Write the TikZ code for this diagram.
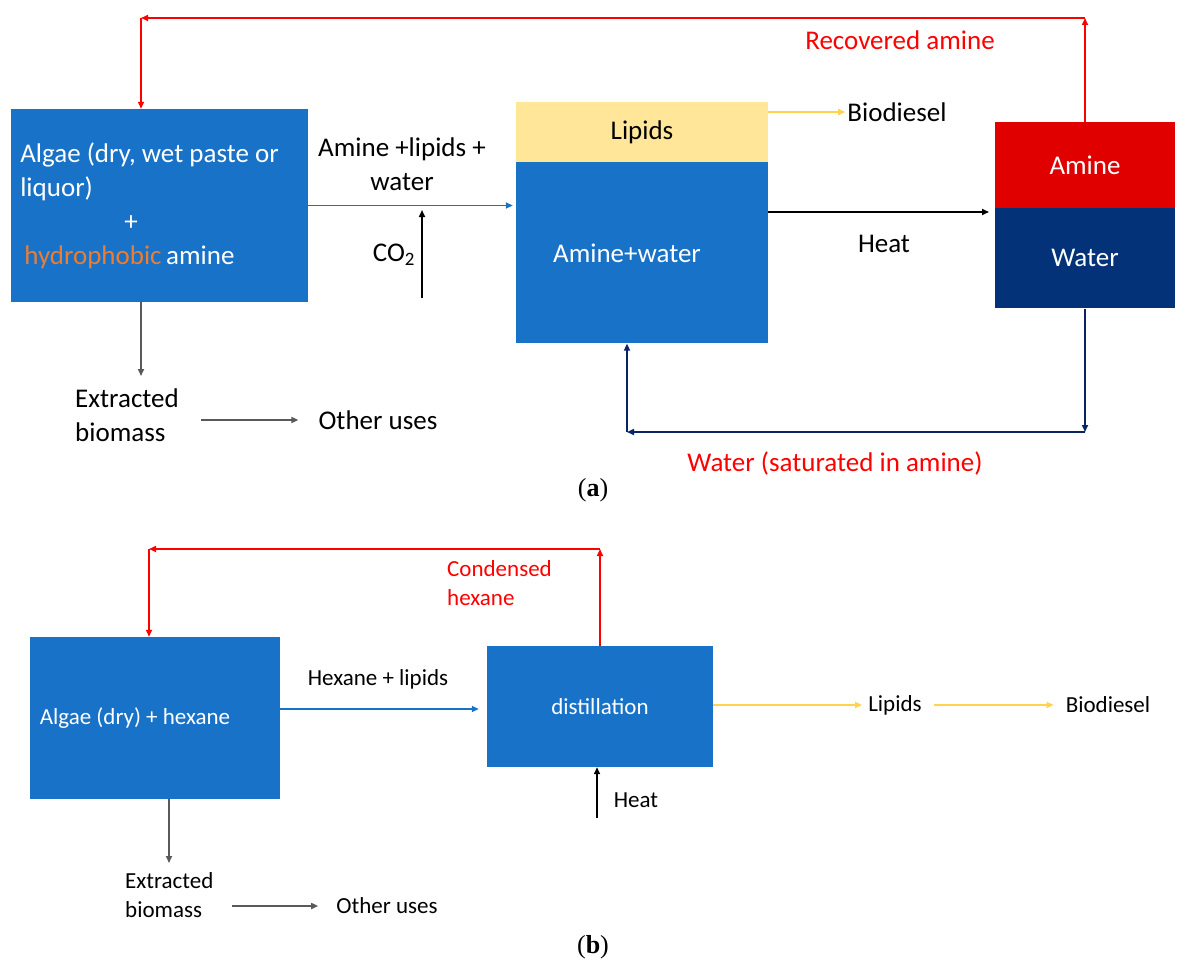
\documentclass[tikz,border=0pt]{standalone}
\usepackage{fontspec}
\setmainfont{Carlito}
\newfontfamily\capfont{Liberation Serif}
\usepackage{tikz}
\usetikzlibrary{arrows.meta, positioning}
\definecolor{boxblue}{HTML}{1772C8}
\definecolor{lipidyellow}{HTML}{FFE699}
\definecolor{aminered}{HTML}{E00000}
\definecolor{waternavy}{HTML}{033278}
\definecolor{flowyellow}{HTML}{FFD34E}
\definecolor{recred}{HTML}{FF0000}
\definecolor{hydroorange}{HTML}{ED7D31}
\definecolor{restgrey}{HTML}{595959}
\definecolor{retnavy}{HTML}{0A2466}
\newcommand\fa{\fontsize{27}{34}\selectfont}
\newcommand\fb{\fontsize{23}{29}\selectfont}

\begin{document}
\begin{tikzpicture}[
  x=1pt, y=-1pt,
  box/.style={rectangle, inner sep=0pt, text=white},
  lbl/.style={inner sep=2pt, text=black},
  arrow/.style={-{Triangle[length=7pt,width=6pt]}, line width=1.6pt},
  recycle/.style={arrow, recred},
  retline/.style={arrow, retnavy},
  greyarrow/.style={arrow, restgrey},
  feed/.style={arrow, boxblue},
  oil/.style={arrow, flowyellow},
]
\useasboundingbox (0,0) rectangle (1186,971);

% (a) amine process
\node[box, fill=boxblue, minimum width=297pt, minimum height=193pt,
      align=left, font=\fa] (algae) at (159.5,205.5)
     {Algae (dry, wet paste or\hspace*{20pt}\\liquor)\\\hspace*{104pt}+\\\hspace*{4pt}{\color{hydroorange}hydrophobic}\,amine};
\node[box, fill=lipidyellow, text=black, minimum width=252pt, minimum height=60pt, font=\fa] (lipids) at (642,132) {Lipids};
\node[box, fill=boxblue, minimum width=252pt, minimum height=181pt, font=\fa, below=0pt of lipids] (mix) {Amine+water\hspace*{30pt}};
\node[box, fill=aminered, minimum width=180pt, minimum height=86pt, font=\fa] (amine) at (1085,165) {Amine};
\node[box, fill=waternavy, minimum width=180pt, minimum height=100pt, font=\fa, below=0pt of amine] (water) {Water};

\node[lbl, font=\fa, align=center] (feedlbl) at (402,164) {Amine +lipids +\\water};
\node[lbl, font=\fa] (co2) at (394,255) {CO\textsubscript{2}};
\node[lbl, font=\fa] (biod) at (897,112) {Biodiesel};
\node[lbl, font=\fa] (heat) at (884,244) {Heat};
\node[lbl, font=\fa, text=recred] (reclbl) at (900,40) {Recovered amine};
\node[lbl, font=\fa, text=recred] (retlbl) at (835,463) {Water (saturated in amine)};
\node[lbl, font=\fa, align=left, anchor=west] (extr) at (73,415) {Extracted\\biomass};
\node[lbl, font=\fa] (other) at (378,420) {Other uses};
\node[font=\capfont\fontsize{26}{30}\selectfont] (capa) at (593,490) {(\textbf{a})};

\coordinate (co2s) at (422,298);
\coordinate (heatin) at (989,212);
\coordinate (recTR) at (1085,18);
\coordinate (recTL) at (141,18);
\coordinate (retR) at (1085,432);
\coordinate (retL) at (627,432);
\coordinate (extin) at (141,376);

\draw[feed] (algae.east) -- (algae.east -| mix.west) [shorten >=3pt];
\draw[arrow] (co2s) -- ++(0,-88);
\draw[oil] (lipids.east |- biod) -- (biod.west);
\draw[arrow] (mix.east |- heatin) -- (heatin);
\draw[recycle] (amine.north) -- (recTR);
\draw[recycle] (recTR) -- (recTL);
\draw[recycle] (recTL) -- (recTL |- algae.north);
\draw[retline] (water.south) -- (retR);
\draw[retline] (retR) -- (retL);
\draw[retline] (retL) -- (retL |- mix.south);
\draw[greyarrow] (extin |- algae.south) -- (extin);
\draw[greyarrow, shorten <=20pt, shorten >=18pt] (extr.east |- other) -- (other.west);

% (b) hexane process
\node[box, fill=boxblue, minimum width=250pt, minimum height=162pt,
      font=\fb] (algaeb) at (155,718) {Algae (dry) + hexane\hspace*{40pt}};
\node[box, fill=boxblue, minimum width=226pt, minimum height=121pt, font=\fb] (dist) at (600,706.5) {distillation};

\node[lbl, font=\fb] (feedb) at (378,679) {Hexane + lipids};
\node[lbl, font=\fb, text=recred, align=left, anchor=west] (condlbl) at (445,583) {Condensed\\hexane};
\node[lbl, font=\fb] (heatb) at (636,800) {Heat};
\node[lbl, font=\fb, inner sep=6pt] (lipb) at (895,705) {Lipids};
\node[lbl, font=\fb, inner sep=6pt] (biodb) at (1108,705) {Biodiesel};
\node[lbl, font=\fb, align=left, anchor=west] (extrb) at (123,895) {Extracted\\biomass};
\node[lbl, font=\fb] (otherb) at (387,906) {Other uses};
\node[font=\capfont\fontsize{26}{30}\selectfont] (capb) at (593,947) {(\textbf{b})};

\coordinate (condR) at (600,549);
\coordinate (condL) at (149,549);
\coordinate (heatbs) at (597,818);
\coordinate (extinb) at (169,863);

\draw[feed] (algaeb.east |- 0,709) -- (dist.west |- 0,709) [shorten >=8pt];
\draw[recycle] (dist.north) -- (condR);
\draw[recycle] (condR) -- (condL);
\draw[recycle] (condL) -- (condL |- algaeb.north);
\draw[arrow] (heatbs) -- (heatbs |- dist.south);
\draw[oil] (dist.east |- lipb) -- (lipb.west);
\draw[oil, shorten <=6pt, shorten >=6pt] (lipb.east) -- (biodb.west);
\draw[greyarrow] (extinb |- algaeb.south) -- (extinb);
\draw[greyarrow, shorten <=16pt, shorten >=16pt] (extrb.east |- otherb) -- (otherb.west);
\end{tikzpicture}
\end{document}
